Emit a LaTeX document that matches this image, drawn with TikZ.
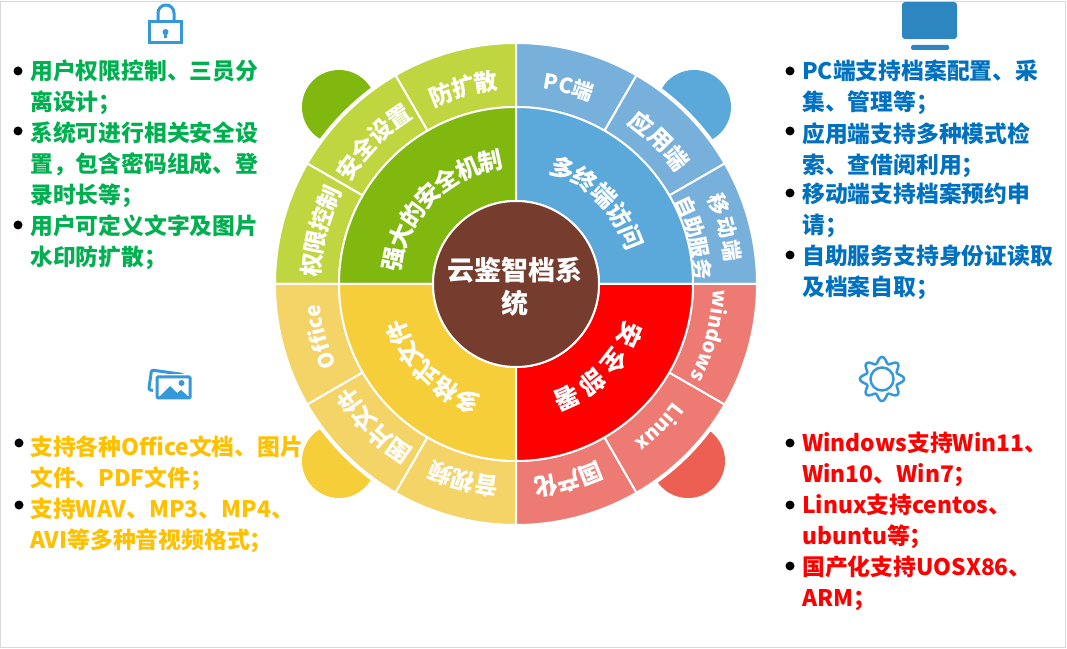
\documentclass[tikz,border=0pt]{standalone}
\usepackage{fontspec}
\setmainfont{Noto Sans CJK SC}
\usetikzlibrary{decorations.text}
\definecolor{cgreen}{HTML}{80B810}
\definecolor{clime}{HTML}{BFD641}
\definecolor{cblue}{HTML}{5BA8DB}
\definecolor{clblue}{HTML}{78B0DC}
\definecolor{cred}{HTML}{FF0000}
\definecolor{csalmon}{HTML}{EE7A74}
\definecolor{ccoral}{HTML}{EE5F53}
\definecolor{cyel}{HTML}{F5CE3A}
\definecolor{clyel}{HTML}{F4D466}
\definecolor{cbrown}{HTML}{763C2E}
\definecolor{tgreen}{HTML}{00B050}
\definecolor{tblue}{HTML}{0070C0}
\definecolor{tyel}{HTML}{FFC000}
\definecolor{icon}{HTML}{3498DB}
\definecolor{iconm}{HTML}{2E86C1}
\tikzset{
  sect/.style={draw=white,line width=2pt,fill=#1},
  bul/.style={circle,fill=black,inner sep=0pt,minimum size=9pt},
  para/.style={anchor=north west,align=left,inner sep=0pt,text=#1,
     font=\bfseries\fontsize{22.8}{31}\selectfont},
  arcch/.style={inner sep=0pt,text=white,font=\bfseries\fontsize{#1}{#1}\selectfont},
  iconline/.style={draw=icon,line width=3pt}
}
% sector: r1 r2 a1 a2 colour
\newcommand\sector[5]{\draw[sect=#5] (#3:#1pt) arc[start angle=#3,end angle=#4,radius=#1pt] -- (#4:#2pt) arc[start angle=#4,end angle=#3,radius=#2pt] -- cycle;}
% name radius mid step size n list
\newcommand\archars[7]{%
  \pgfmathsetmacro\startang{#3+#4*(#6-1)/2}%
  \foreach \ch [count=\i] in {#7}{%
    \pgfmathsetmacro\ang{\startang-(\i-1)*#4}%
    \node[arcch=#5,rotate=\ang-90] (#1-\i) at (\ang:#2pt) {\ch};
  }}
% radius mid size text (Latin labels)
\newcommand\arcword[4]{%
  \path[decorate,decoration={text along path,text align=center,text color=white,
     text={|\bfseries\fontsize{#3}{#3}\selectfont|#4}}]
   (#2+60:#1pt) arc[start angle=#2+60,end angle=#2-60,radius=#1pt];}
\begin{document}
\begin{tikzpicture}[x=1pt,y=1pt]
\useasboundingbox (0,0) rectangle (1067,648);
\draw[draw=black!15,line width=1pt] (0.5,0.5) rectangle (1065.5,646.5);
% bumps behind the ring
\fill[cgreen] (339,541) circle[radius=37pt];
\fill[cblue] (694,541) circle[radius=37pt];
\fill[cyel] (339,187) circle[radius=37pt];
\fill[ccoral] (688,187) circle[radius=37pt];
\begin{scope}[shift={(516,364)}]
\fill[white] (0,0) circle[radius=244pt];
\sector{177}{241}{90}{120}{clime}
\sector{177}{241}{120}{150}{clime}
\sector{177}{241}{150}{180}{clime}
\sector{177}{241}{60}{90}{clblue}
\sector{177}{241}{30}{60}{clblue}
\sector{177}{241}{0}{30}{clblue}
\sector{177}{241}{180}{210}{clyel}
\sector{177}{241}{210}{240}{clyel}
\sector{177}{241}{240}{270}{clyel}
\sector{177}{241}{270}{300}{csalmon}
\sector{177}{241}{300}{330}{csalmon}
\sector{177}{241}{330}{360}{csalmon}
\sector{83}{177}{90}{180}{cgreen}
\sector{83}{177}{0}{90}{cblue}
\sector{83}{177}{180}{270}{cyel}
\sector{83}{177}{270}{360}{cred}
\draw[draw=white,line width=2pt,fill=cbrown] (0,0) circle[radius=83pt];
\node[inner sep=0pt,align=center,text=white,font=\bfseries\fontsize{27}{33}\selectfont] (title) at (-1,-3) {云鉴智档系\\统};
\archars{qa}{125}{135}{11.1}{24}{7}{强,大,的,安,全,机,制}
\archars{qb}{125}{45}{11.5}{24}{5}{多,终,端,访,问}
\archars{qc}{127}{225}{11.25}{24}{5}{多,格,式,文,件}
\archars{qd}{125}{-45}{14}{25}{4}{安,全,部,署}
\archars{oa}{204}{105}{6.6}{23.5}{3}{防,扩,散}
\archars{ob}{204}{135}{6.8}{23.5}{4}{安,全,设,置}
\archars{oc}{205}{165}{6.5}{23.5}{4}{权,限,控,制}
\archars{od}{204}{45}{7}{23.5}{3}{应,用,端}
\archars{oe}{218}{15}{6.3}{21}{3}{移,动,端}
\archars{of}{187}{14.5}{6.6}{21}{4}{自,助,服,务}
\archars{og}{204}{-75}{6.5}{23.5}{3}{国,产,化}
\archars{oh}{204}{-105}{6.7}{23.5}{3}{音,视,频}
\archars{oi}{204}{-135}{6.6}{23.5}{4}{图,片,文,件}
\arcword{197}{75}{21}{PC端}
\arcword{197}{-15}{20}{windows}
\arcword{197}{-45}{20}{Linux}
\arcword{197}{195}{21}{Office}
\end{scope}
% left top
\node[bul] (b1) at (18,577) {};
\node[bul] (b2) at (18,517) {};
\node[bul] (b3) at (18,423) {};
\node[para=tgreen] (p1) at (30,588) {用户权限控制、三员分\\离设计；};
\node[para=tgreen] (p2) at (30,526) {系统可进行相关安全设\\置，包含密码组成、登\\录时长等；};
\node[para=tgreen] (p3) at (30,433) {用户可定义文字及图片\\水印防扩散；};
% right top
\node[bul] (b4) at (790,577) {};
\node[bul] (b5) at (790,517) {};
\node[bul] (b6) at (790,455) {};
\node[bul] (b7) at (790,393) {};
\node[para=tblue] (p4) at (802,588) {PC端支持档案配置、采\\集、管理等；};
\node[para=tblue] (p5) at (802,526) {应用端支持多种模式检\\索、查借阅利用；};
\node[para=tblue] (p6) at (802,465) {移动端支持档案预约申\\请；};
\node[para=tblue] (p7) at (802,403) {自助服务支持身份证读取\\及档案自取；};
% left bottom
\node[bul] (b8) at (19,205) {};
\node[bul] (b9) at (19,143) {};
\node[para=tyel] (p8) at (30,212) {支持各种Office文档、图片\\文件、PDF文件；};
\node[para=tyel] (p9) at (30,150) {支持WAV、MP3、MP4、\\AVI等多种音视频格式；};
% right bottom
\node[bul] (b10) at (790,205) {};
\node[bul] (b11) at (790,143) {};
\node[bul] (b12) at (790,82) {};
\node[para=cred] (p10) at (802,216) {Windows支持Win11、\\Win10、Win7；};
\node[para=cred] (p11) at (802,154) {Linux支持centos、\\ubuntu等；};
\node[para=cred] (p12) at (802,92) {国产化支持UOSX86、\\ARM；};
% lock icon
\draw[iconline] (149.5,605) rectangle (181.5,626);
\draw[iconline] (158,626) -- (158,635) arc[start angle=180,end angle=0,radius=8pt] -- (174,626);
\fill[icon] (165.5,616) circle[radius=3pt];
\fill[icon] (164.3,610) rectangle (166.7,616);
% monitor icon
\fill[iconm,rounded corners=3pt] (902,609) rectangle (957,646);
\fill[iconm,rounded corners=1.5pt] (911,598) rectangle (949,603);
% picture icon
\draw[iconline,rounded corners=2pt,rotate around={-8:(165,266)}] (150,256) rectangle (182,276);
\fill[white] (153,246) rectangle (194,274);
\draw[iconline,rounded corners=1pt,fill=white] (157,250) rectangle (190,271);
\fill[icon] (158,250) -- (170,262) -- (177,255) -- (181,258) -- (189,251) -- (189,250) -- cycle;
\fill[icon] (181.5,265) circle[radius=3pt];
% gear icon
\draw[iconline,line width=2.5pt] plot[smooth,domain=0:360,samples=145] ({882+(19+3*cos(8*\x))*cos(\x)},{269+(19+3*cos(8*\x))*sin(\x)}) -- cycle;
\draw[iconline,line width=2.5pt] (882,269) circle[radius=11.5pt];
\end{tikzpicture}
\end{document}
